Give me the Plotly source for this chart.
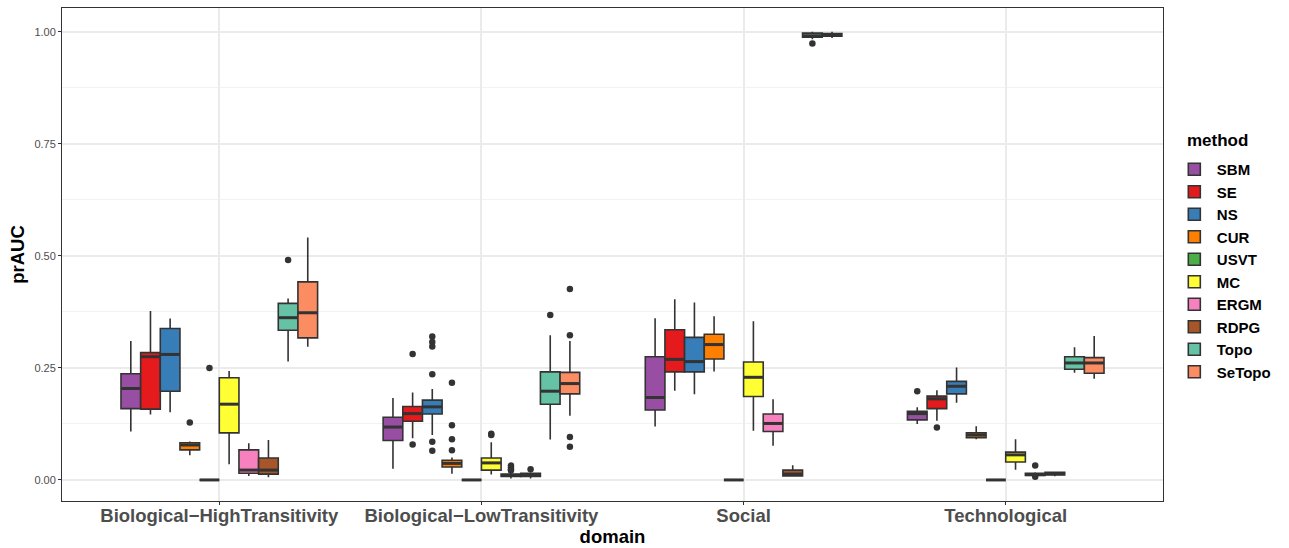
import plotly.graph_objects as go

domains = ["Biological−HighTransitivity", "Biological−LowTransitivity", "Social", "Technological"]
methods = ["SBM", "SE", "NS", "CUR", "USVT", "MC", "ERGM", "RDPG", "Topo", "SeTopo"]
colors = ["#984EA3", "#E41A1C", "#377EB8", "#FF7F00", "#4DAF4A",
          "#FFFF33", "#F781BF", "#A65628", "#66C2A5", "#FC8D62"]

# per method, values for the 4 domains
lowerfence = {
    "SBM": [0.108, 0.025, 0.119, 0.125], "SE": [0.146, 0.093, 0.199, 0.132],
    "NS": [0.151, 0.100, 0.191, 0.172], "CUR": [0.055, 0.014, 0.242, 0.091],
    "USVT": [0.0, 0.0, 0.0, 0.0], "MC": [0.035, 0.012, 0.110, 0.023],
    "ERGM": [0.009, 0.003, 0.076, 0.009], "RDPG": [0.006, 0.003, 0.007, 0.008],
    "Topo": [0.264, 0.090, 0.983, 0.239], "SeTopo": [0.297, 0.143, 0.986, 0.226],
}
q1 = {
    "SBM": [0.159, 0.088, 0.156, 0.134], "SE": [0.158, 0.131, 0.241, 0.159],
    "NS": [0.198, 0.147, 0.241, 0.192], "CUR": [0.067, 0.029, 0.270, 0.094],
    "USVT": [0.0, 0.0, 0.0, 0.0], "MC": [0.105, 0.022, 0.186, 0.040],
    "ERGM": [0.015, 0.008, 0.108, 0.010], "RDPG": [0.013, 0.008, 0.009, 0.011],
    "Topo": [0.334, 0.169, 0.988, 0.247], "SeTopo": [0.317, 0.192, 0.990, 0.238],
}
median = {
    "SBM": [0.204, 0.118, 0.184, 0.148], "SE": [0.275, 0.148, 0.269, 0.181],
    "NS": [0.280, 0.163, 0.264, 0.209], "CUR": [0.078, 0.037, 0.302, 0.100],
    "USVT": [0.0, 0.0, 0.0, 0.0], "MC": [0.169, 0.038, 0.229, 0.056],
    "ERGM": [0.022, 0.010, 0.126, 0.012], "RDPG": [0.022, 0.011, 0.013, 0.014],
    "Topo": [0.362, 0.198, 0.991, 0.261], "SeTopo": [0.373, 0.215, 0.993, 0.261],
}
q3 = {
    "SBM": [0.237, 0.140, 0.275, 0.153], "SE": [0.284, 0.164, 0.335, 0.187],
    "NS": [0.338, 0.178, 0.318, 0.220], "CUR": [0.083, 0.044, 0.325, 0.105],
    "USVT": [0.0, 0.0, 0.0, 0.0], "MC": [0.228, 0.049, 0.263, 0.062],
    "ERGM": [0.067, 0.013, 0.147, 0.015], "RDPG": [0.049, 0.015, 0.022, 0.017],
    "Topo": [0.394, 0.241, 0.997, 0.275], "SeTopo": [0.442, 0.240, 0.996, 0.273],
}
upperfence = {
    "SBM": [0.310, 0.183, 0.361, 0.162], "SE": [0.377, 0.195, 0.403, 0.200],
    "NS": [0.360, 0.203, 0.396, 0.251], "CUR": [0.086, 0.050, 0.365, 0.120],
    "USVT": [0.0, 0.0, 0.0, 0.0], "MC": [0.243, 0.084, 0.354, 0.091],
    "ERGM": [0.082, 0.016, 0.180, 0.017], "RDPG": [0.089, 0.017, 0.033, 0.018],
    "Topo": [0.405, 0.323, 1.000, 0.296], "SeTopo": [0.541, 0.310, 1.000, 0.321],
}
# outliers per method, one list per domain
outliers = {
    "SBM": [[], [], [], [0.198]],
    "SE": [[], [0.281, 0.079], [], [0.117]],
    "NS": [[], [0.320, 0.308, 0.298, 0.236, 0.085, 0.065], [], []],
    "CUR": [[0.128], [0.217, 0.122, 0.091, 0.066], [], []],
    "USVT": [[0.250], [], [], []],
    "MC": [[], [0.103, 0.100], [], []],
    "ERGM": [[], [0.032, 0.028, 0.024, 0.021], [], [0.032, 0.007]],
    "RDPG": [[], [0.024], [], []],
    "Topo": [[0.491], [0.368], [0.974], []],
    "SeTopo": [[], [0.426, 0.323, 0.096, 0.074], [], []],
}

DODGE = 0.75
n_m = len(methods)
bw = DODGE / n_m


def pos(d, m):
    return (d + 1) + (m - (n_m - 1) / 2) * bw


FONT = "Liberation Sans, Arial, Helvetica, sans-serif"
LINE = "#333333"

fig = go.Figure()
for mi, m in enumerate(methods):
    xs = [pos(d, mi) for d in range(len(domains))]
    fig.add_trace(go.Box(
        name="<b>%s</b>" % m, x=xs, q1=q1[m], median=median[m], q3=q3[m],
        lowerfence=lowerfence[m], upperfence=upperfence[m],
        width=bw, whiskerwidth=0, boxpoints=False,
        fillcolor=colors[mi], line=dict(color=LINE, width=1.6),
        hoverinfo="skip",
    ))

# thick median lines (ggplot fatten)
for mi, m in enumerate(methods):
    mx, my = [], []
    for d in range(len(domains)):
        c = pos(d, mi)
        mx += [c - bw / 2, c + bw / 2, None]
        my += [median[m][d], median[m][d], None]
    fig.add_trace(go.Scatter(x=mx, y=my, mode="lines", line=dict(color=LINE, width=3),
                             showlegend=False, hoverinfo="skip"))

ox, oy = [], []
for mi, m in enumerate(methods):
    for d in range(len(domains)):
        for v in outliers[m][d]:
            ox.append(pos(d, mi))
            oy.append(v)
fig.add_trace(go.Scatter(x=ox, y=oy, mode="markers",
                         marker=dict(color=LINE, size=6.5), showlegend=False, hoverinfo="skip"))

fig.update_layout(
    width=1289, height=548,
    margin=dict(l=62, r=126, t=8, b=47, autoexpand=False),
    paper_bgcolor="white", plot_bgcolor="white",
    font=dict(family=FONT, color="black"),
    boxmode="overlay",
    showlegend=True,
    legend=dict(
        font=dict(size=15, family=FONT, color="black"),
        x=1.008, xanchor="left", y=0.706, yanchor="top",
        itemwidth=35,
        bgcolor="rgba(0,0,0,0)",
    ),
    annotations=[dict(
        text="<b>method</b>", xref="paper", yref="paper", x=1.02, y=0.732,
        xanchor="left", yanchor="middle", showarrow=False,
        font=dict(size=17, family=FONT, color="black"),
    )],
)
fig.update_xaxes(
    range=[0.4, 4.6], tickmode="array", tickvals=[1, 2, 3, 4],
    ticktext=["<b>%s</b>" % d for d in domains],
    tickfont=dict(size=18.5, color="#4D4D4D", family=FONT),
    ticks="outside", ticklen=3, tickwidth=1, tickcolor=LINE, ticklabelstandoff=-5,
    showgrid=True, gridcolor="#EBEBEB", gridwidth=1.5,
    showline=True, linecolor=LINE, linewidth=1, mirror=True, zeroline=False,
    automargin=False,
    title=dict(text="<b>domain</b>", font=dict(size=18.5, color="black", family=FONT), standoff=2),
)
fig.update_yaxes(
    range=[-0.047, 1.053], tickmode="array", tickvals=[0, 0.25, 0.5, 0.75, 1.0],
    ticktext=["0.00", "0.25", "0.50", "0.75", "1.00"],
    tickfont=dict(size=11, color="#4D4D4D", family=FONT),
    ticks="outside", ticklen=3, tickwidth=1, tickcolor=LINE,
    showgrid=True, gridcolor="#EBEBEB", gridwidth=1.5,
    minor=dict(tickvals=[0.125, 0.375, 0.625, 0.875], showgrid=True, gridcolor="#F2F2F2", gridwidth=0.8),
    showline=True, linecolor=LINE, linewidth=1, mirror=True, zeroline=False,
    automargin=False,
    title=dict(text="<b>prAUC</b>", font=dict(size=18.5, color="black", family=FONT), standoff=4),
)

fig.write_html("out.html")
